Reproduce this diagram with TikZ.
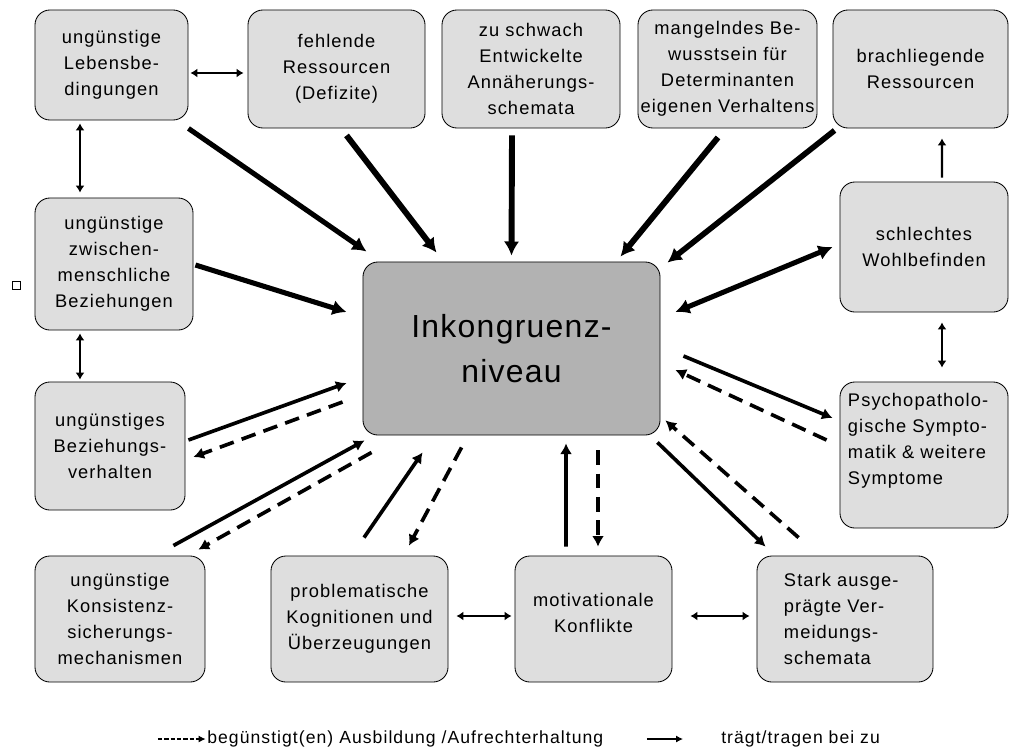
\documentclass[tikz,border=0pt]{standalone}
\usepackage{fontspec}
\setmainfont{Liberation Sans}
\newfontfamily\boxfont{Liberation Sans}[LetterSpace=6]
\newfontfamily\corefont{Liberation Sans}[LetterSpace=4]
\usetikzlibrary{arrows.meta,positioning}

\definecolor{factorgray}{gray}{0.87}
\definecolor{coregray}{gray}{0.70}

\tikzset{
    factor/.style={draw, line width=0.6pt, fill=factorgray, rounded corners=0.375cm,
        inner xsep=0pt, inner ysep=2pt, align=center,
        font=\boxfont\fontsize{13pt}{18.5pt}\selectfont},
    fsize/.style 2 args={text width=#1, minimum width=#1, minimum height=#2},
    heavy/.style={line width=3.6pt, -{Latex[length=10pt,width=11pt]}},
    feed/.style={line width=2.6pt, -{Latex[length=7.5pt,width=8.5pt]}},
    foster/.style={line width=2.6pt, dash pattern=on 10.5pt off 6pt, -{Latex[length=7.5pt,width=8.5pt]}},
    link/.style={line width=1.6pt, {Latex[length=5pt,width=6.5pt]}-{Latex[length=5pt,width=6.5pt]}},
    legend/.style={anchor=west, inner sep=0pt, font=\boxfont\fontsize{12.5pt}{15pt}\selectfont}
}

\begin{document}
\begin{tikzpicture}[x=0.025cm, y=-0.025cm]
    \useasboundingbox (0,0) rectangle (1010,752);

    % top row
    \node[factor, fsize={3.825cm}{2.75cm}] (leb) at (111.5,65) {ungünstige\\Lebensbe-\\dingungen};
    \node[factor, fsize={4.425cm}{2.95cm}] (fehl) at (336.5,69) {fehlende\\Ressourcen\\(Defizite)};
    \node[factor, fsize={4.45cm}{2.95cm}] (schw) at (531,69) {zu schwach\\Entwickelte\\Annäherungs-\\schemata};
    \node[factor, fsize={4.475cm}{2.95cm}] (bew) at (727.5,69) {mangelndes Be-\\wusstsein für\\Determinanten\\eigenen Verhaltens};
    \node[factor, fsize={4.375cm}{2.95cm}] (brach) at (920.5,69) {brachliegende\\Ressourcen};

    % left column
    \node[factor, fsize={3.95cm}{3.3cm}] (zwi) at (114,264) {ungünstige\\zwischen-\\menschliche\\Beziehungen};
    \node[factor, fsize={3.75cm}{3.2cm}] (bzv) at (110,446) {ungünstiges\\Beziehungs-\\verhalten};
    \node[draw, line width=0.5pt, minimum size=0.2cm, inner sep=0pt] (mark) at (16,285) {};

    % right column
    \node[factor, fsize={4.2cm}{3.25cm}] (wohl) at (924,247) {schlechtes\\Wohlbefinden};
    \node[factor, fsize={4.2cm}{3.65cm}, text width=3.8cm, align=left] (psy) at (924,455)
        {Psychopatholo-\\gische Sympto-\\matik \& weitere\\Symptome\par\kern 20pt};

    % bottom row
    \node[factor, fsize={4.25cm}{3.15cm}] (kons) at (120,619) {ungünstige\\Konsistenz-\\sicherungs-\\mechanismen};
    \node[factor, fsize={4.425cm}{3.15cm}] (prob) at (359.5,619) {problematische\\Kognitionen und\\Überzeugungen};
    \node[factor, fsize={3.925cm}{3.15cm}] (mot) at (593.5,619) {motivationale\\Konflikte\par\kern 8pt};
    \node[factor, fsize={4.4cm}{3.15cm}, text width=3.05cm, align=left] (stark) at (845,619)
        {Stark ausge-\\prägte Ver-\\meidungs-\\schemata};

    % centre
    \node[factor, fill=coregray, fsize={7.425cm}{4.325cm},
        font=\corefont\fontsize{22.7pt}{32pt}\selectfont] (ink) at (511.5,348.5) {Inkongruenz-\\niveau};

    % contributing factors
    \draw[heavy] ([shift={(0,8)}]leb.south east) -- ([shift={(4,-10)}]ink.north west);
    \draw[heavy, line width=4.2pt] ([shift={(10,7)}]fehl.south) -- ([shift={(74,-9)}]ink.north west);
    \draw[heavy, line width=4.2pt] ([shift={(-19,7)}]schw.south) -- ([shift={(0,-6)}]ink.north);
    \draw[heavy, line width=4.2pt] ([shift={(-9.5,9)}]bew.south) -- ([shift={(-40,-5)}]ink.north east);
    \draw[heavy, line width=4pt] ([shift={(2,2)}]brach.south west) -- ([shift={(7,1)}]ink.north east);
    \draw[heavy, {Latex[length=10pt,width=11pt]}-{Latex[length=10pt,width=11pt]}] ([shift={(15,-36.5)}]ink.east) -- ([shift={(-7,0)}]wohl.west);
    \draw[heavy] ([shift={(2,1)}]zwi.east) -- ([shift={(-16,-36.5)}]ink.west);

    % paired influences
    \draw[feed] ([shift={(3,-6)}]bzv.east) -- ([shift={(-16,34.5)}]ink.west);
    \draw[foster] ([shift={(-20,53.5)}]ink.west) -- ([shift={(8,11)}]bzv.east);
    \draw[feed] ([shift={(-32,-10)}]kons.north east) -- ([shift={(2,5)}]ink.south west);
    \draw[foster] ([shift={(9,17)}]ink.south west) -- ([shift={(-7,-6)}]kons.north east);
    \draw[feed] ([shift={(4.5,-18)}]prob.north) -- ([shift={(60,17)}]ink.south west);
    \draw[foster] ([shift={(99,12)}]ink.south west) -- ([shift={(49.5,-10)}]prob.north);
    \draw[feed] ([shift={(-27.5,-9)}]mot.north) -- ([shift={(54.5,8)}]ink.south);
    \draw[foster] ([shift={(86.5,15)}]ink.south) -- ([shift={(4.5,-9)}]mot.north);
    \draw[feed] ([shift={(-3,7)}]ink.south east) -- ([shift={(9,-9)}]stark.north west);
    \draw[foster] ([shift={(42,-18)}]stark.north west) -- ([shift={(5,-15)}]ink.south east);
    \draw[feed] ([shift={(23,7.5)}]ink.east) -- ([shift={(-7,-37)}]psy.west);
    \draw[foster] ([shift={(-13,-15)}]psy.west) -- ([shift={(15,21.5)}]ink.east);

    % links between factors
    \draw[link] ([shift={(2,8)}]leb.east) -- ([shift={(-4,4)}]fehl.west);
    \draw[link] ([shift={(-31.5,3)}]leb.south) -- ([shift={(-34,-5)}]zwi.north);
    \draw[link] ([shift={(-34,3)}]zwi.south) -- ([shift={(-30,-2)}]bzv.north);
    \draw[link, -{Latex[length=5pt,width=6.5pt]}] ([shift={(18,-4)}]wohl.north) -- ([shift={(21.5,10)}]brach.south);
    \draw[link] ([shift={(18,10)}]wohl.south) -- ([shift={(18,-14)}]psy.north);
    \draw[link] ([shift={(8,-3)}]prob.east) -- ([shift={(-3,-3)}]mot.west);
    \draw[link] ([shift={(18,-3)}]mot.east) -- ([shift={(-7,-3)}]stark.west);

    % legend
    \node[legend] (legfost) at (207,739) {begünstigt(en) Ausbildung /Aufrechterhaltung};
    \coordinate[left=1.225cm of legfost] (legfostfrom);
    \draw[line width=0.8pt, dash pattern=on 3pt off 1.5pt, -{Latex[length=5pt,width=5pt]}, shorten >=1pt] (legfostfrom) -- (legfost);
    \node[legend] (legfeed) at (721,739) {trägt/tragen bei zu};
    \coordinate[left=1.85cm of legfeed] (legfeedfrom);
    \draw[line width=0.8pt, -{Latex[length=5pt,width=5pt]}, shorten >=27pt] (legfeedfrom) -- (legfeed);
\end{tikzpicture}
\end{document}
